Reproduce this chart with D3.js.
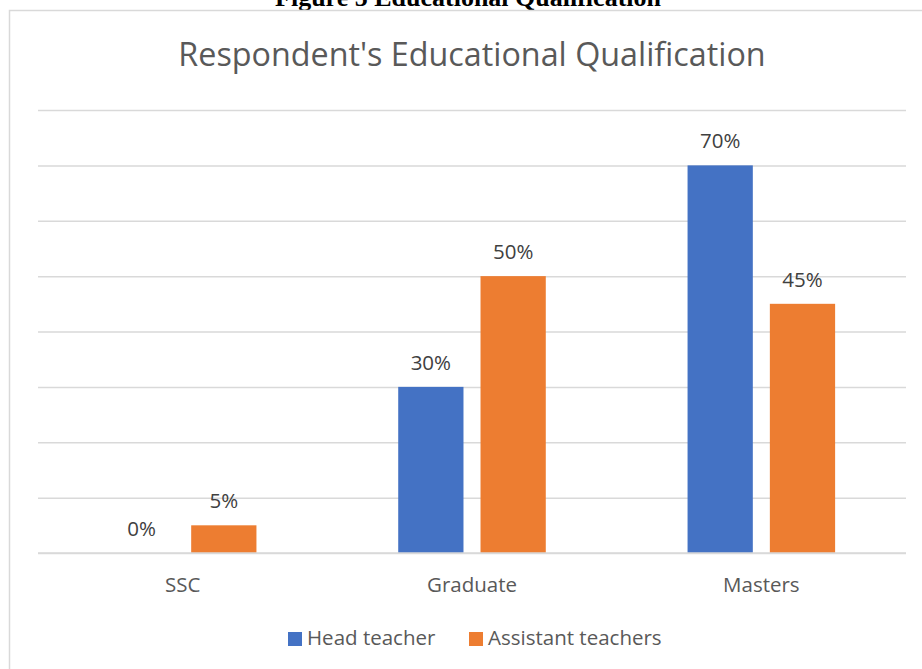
<!DOCTYPE html>
<html>
<head>
<meta charset="utf-8">
<script src="https://cdn.jsdelivr.net/npm/d3@7"></script>
<style>
  body { margin: 0; background: #fff; }
  svg { display: block; }
</style>
</head>
<body>
<svg id="plot"></svg>
<script>
// chart data
const categories = ["SSC", "Graduate", "Masters"];
const seriesNames = ["Head teacher", "Assistant teachers"];
const headTeacher = [0, 0.30, 0.70];
const assistantTeachers = [0.05, 0.50, 0.45];
const yTicks = [0, 0.1, 0.2, 0.3, 0.4, 0.5, 0.6, 0.7, 0.8];
const colors = ["#4472C4", "#ED7D31"];

const W = 922, H = 669;
const margin = { top: 110, right: 16, bottom: 116, left: 38 },
  width = W - margin.left - margin.right,
  height = H - margin.top - margin.bottom;

const font = "'Open Sans', sans-serif";

const svg = d3.select("#plot")
    .attr("width", W)
    .attr("height", H);

// caption above the chart box (cut off by the page edge, as in the source)
svg.append("text")
  .attr("x", 468)
  .attr("y", 6)
  .attr("text-anchor", "middle")
  .style("font-family", "'Liberation Serif', 'Times New Roman', serif")
  .style("font-weight", "bold")
  .style("font-size", "26px")
  .attr("fill", "#000")
  .text("Figure 5 Educational Qualification");

// chart box border
svg.append("rect")
  .attr("x", 9.5)
  .attr("y", 10.5)
  .attr("width", 930)
  .attr("height", 700)
  .attr("fill", "none")
  .attr("stroke", "#d9d9d9")
  .attr("stroke-width", 1.5);

// title
svg.append("text")
  .attr("x", margin.left + width / 2)
  .attr("y", 66)
  .attr("text-anchor", "middle")
  .style("font-family", font)
  .style("font-size", "32.3px")
  .attr("fill", "#595959")
  .text("Respondent's Educational Qualification");

const g = svg.append("g")
    .attr("transform", "translate(" + margin.left + "," + margin.top + ")");

// scales
const x0 = d3.scaleBand()
  .domain(categories)
  .range([0, width])
  .paddingInner(0.49)
  .paddingOuter(0.245);

const x1 = d3.scaleBand()
  .domain(seriesNames)
  .range([0, x0.bandwidth()])
  .paddingInner(0.207);

const y = d3.scaleLinear()
  .domain([0, 0.8])
  .range([height, 0]);

// gridlines
g.append("g")
  .call(d3.axisLeft(y).tickValues(yTicks).tickSize(-width).tickFormat(""))
  .call(a => a.select(".domain").remove())
  .call(a => a.selectAll("line").attr("stroke", "#d9d9d9").attr("stroke-width", 1.5));

// bars
const rows = categories.map((c, i) => ({
  cat: c,
  vals: [headTeacher[i], assistantTeachers[i]]
}));

const groups = g.selectAll(".grp")
  .data(rows)
  .join("g")
    .attr("class", "grp")
    .attr("transform", d => "translate(" + x0(d.cat) + ",0)");

groups.selectAll("rect")
  .data(d => d.vals.map((v, j) => ({ s: seriesNames[j], v: v, j: j })))
  .join("rect")
    .attr("x", d => x1(d.s))
    .attr("y", d => y(d.v))
    .attr("width", x1.bandwidth())
    .attr("height", d => height - y(d.v))
    .attr("fill", d => colors[d.j]);

// data labels
groups.selectAll("text")
  .data(d => d.vals.map((v, j) => ({ s: seriesNames[j], v: v })))
  .join("text")
    .attr("x", d => x1(d.s) + x1.bandwidth() / 2)
    .attr("y", d => y(d.v) - 17)
    .attr("text-anchor", "middle")
    .style("font-family", font)
    .style("font-size", "20.5px")
    .attr("fill", "#404040")
    .text(d => Math.round(d.v * 100) + "%");

// baseline
g.append("line")
  .attr("x1", 0).attr("x2", width)
  .attr("y1", height).attr("y2", height)
  .attr("stroke", "#d9d9d9")
  .attr("stroke-width", 1.5);

// category labels
g.append("g")
  .attr("transform", "translate(0," + height + ")")
  .call(d3.axisBottom(x0).tickSize(0).tickPadding(24))
  .call(a => a.select(".domain").remove())
  .call(a => a.selectAll("text")
    .style("font-family", font)
    .style("font-size", "20.5px")
    .attr("fill", "#595959"));

// legend
const legendX = [288, 469];
const legend = svg.append("g");
seriesNames.forEach((s, i) => {
  legend.append("rect")
    .attr("x", legendX[i])
    .attr("y", 632)
    .attr("width", 14)
    .attr("height", 14)
    .attr("fill", colors[i]);
  legend.append("text")
    .attr("x", legendX[i] + 19)
    .attr("y", 645)
    .style("font-family", font)
    .style("font-size", "20.5px")
    .attr("fill", "#595959")
    .text(s);
});
</script>
</body>
</html>
